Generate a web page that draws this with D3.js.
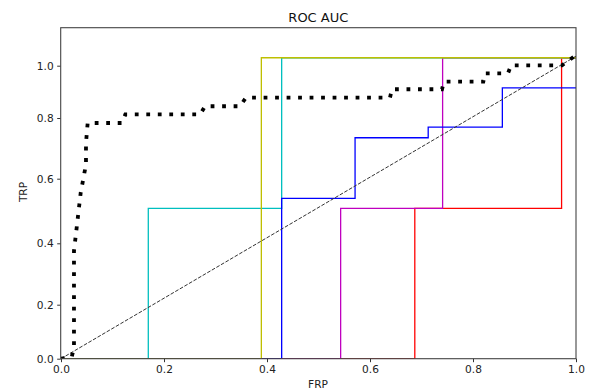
<!DOCTYPE html>
<html>
<head>
<meta charset="utf-8">
<script src="https://cdn.jsdelivr.net/npm/d3@7"></script>
<style>
  body { margin: 0; background: #fff; }
  svg { display: block; font-family: "DejaVu Sans", sans-serif; }
</style>
</head>
<body>
<svg id="chart" width="597" height="389"></svg>
<script>
// tick values
const xTicks = [0, 0.2, 0.4, 0.6, 0.8, 1.0];
const yTicks = [0, 0.2, 0.4, 0.6, 0.8, 1.0];

// dotted black curve
const bestFpr = [0, 0.021, 0.0252, 0.0252, 0.0383, 0.0485, 0.0485, 0.0518, 0.1184, 0.125, 0.2705, 0.2796, 0.3476, 0.3592, 0.6388, 0.6427, 0.7398, 0.7437, 0.82, 0.8233, 0.868, 0.8738, 0.9728, 1.0];
const bestTpr = [0, 0.007, 0.044, 0.375, 0.557, 0.647, 0.717, 0.7835, 0.7835, 0.814, 0.814, 0.845, 0.845, 0.878, 0.878, 0.91, 0.91, 0.939, 0.939, 0.971, 0.971, 1.0015, 1.0015, 1.041];

// step curves
const redFpr = [0, 0.687, 0.687, 0.972, 0.972, 1.0];
const redTpr = [0, 0, 0.508, 0.508, 1.031, 1.031];
const magentaFpr = [0, 0.543, 0.543, 0.741, 0.741, 1.0];
const magentaTpr = [0, 0, 0.508, 0.508, 1.031, 1.031];
const cyanFpr = [0, 0.1695, 0.1695, 0.4285, 0.4285, 1.0];
const cyanTpr = [0, 0, 0.508, 0.508, 1.031, 1.031];
const blueFpr = [0, 0.4285, 0.4285, 0.571, 0.571, 0.713, 0.713, 0.857, 0.857, 1.0];
const blueTpr = [0, 0, 0.539, 0.539, 0.735, 0.735, 0.77, 0.77, 0.915, 0.915];
const yellowFpr = [0, 0.389, 0.389, 1.0];
const yellowTpr = [0, 0, 1.031, 1.031];

// chance line
const chanceFpr = [0, 1];
const chanceTpr = [0, 1.037];

const svg = d3.select("#chart");
const plotLeft = 60.7, plotRight = 576, plotTop = 27.7, plotBottom = 358.7;

const x = d3.scaleLinear().domain([0, 1]).range([61, 576]);
// the y axis in the picture is not evenly spaced, so follow its ticks
const y = d3.scaleLinear()
  .domain([0, 0.2, 0.4, 0.6, 0.8, 1.0, 1.148])
  .range([358.7, 304.7, 243.3, 178.7, 118, 65.7, 27.7]);

svg.append("clipPath").attr("id", "plotclip")
  .append("rect")
  .attr("x", plotLeft).attr("y", plotTop)
  .attr("width", plotRight - plotLeft).attr("height", plotBottom - plotTop);

const plot = svg.append("g").attr("clip-path", "url(#plotclip)");

const line = d3.line().x(d => x(d[0])).y(d => y(d[1]));
const zip = (a, b) => a.map((v, i) => [v, b[i]]);

const steps = [
  [redFpr, redTpr, "#ff0000"],
  [magentaFpr, magentaTpr, "#bf00bf"],
  [cyanFpr, cyanTpr, "#00bfbf"],
  [blueFpr, blueTpr, "#0000ff"],
  [yellowFpr, yellowTpr, "#bfbf00"]
];

steps.forEach(s => {
  plot.append("path")
    .attr("d", line(zip(s[0], s[1])))
    .attr("fill", "none")
    .attr("stroke", s[2])
    .attr("stroke-width", 1.3);
});

plot.append("path")
  .attr("d", line(zip(chanceFpr, chanceTpr)))
  .attr("fill", "none")
  .attr("stroke", "#333")
  .attr("stroke-width", 1)
  .attr("stroke-dasharray", "3.7,1.6");

plot.append("path")
  .attr("d", line(zip(bestFpr, bestTpr)))
  .attr("fill", "none")
  .attr("stroke", "#000")
  .attr("stroke-width", 3.8)
  .attr("stroke-dasharray", "3.8,7.7");

// axes
const xAxis = svg.append("g")
  .attr("transform", "translate(0," + plotBottom + ")")
  .call(d3.axisBottom(x).tickValues(xTicks).tickFormat(d3.format(".1f"))
    .tickSize(3.5).tickPadding(3.5));
const yAxis = svg.append("g")
  .attr("transform", "translate(" + plotLeft + ",0)")
  .call(d3.axisLeft(y).tickValues(yTicks).tickFormat(d3.format(".1f"))
    .tickSize(3.5).tickPadding(3.5));

[xAxis, yAxis].forEach(a => {
  a.select(".domain").remove();
  a.selectAll("line").attr("stroke", "#333");
  a.selectAll("text").attr("fill", "#222")
    .style("font-family", "DejaVu Sans").style("font-size", "10.6px");
});

svg.append("rect")
  .attr("x", plotLeft).attr("y", plotTop)
  .attr("width", plotRight - plotLeft).attr("height", plotBottom - plotTop)
  .attr("fill", "none")
  .attr("stroke", "#444")
  .attr("stroke-width", 1.1);

svg.append("text")
  .attr("x", (plotLeft + plotRight) / 2).attr("y", 21.5)
  .attr("text-anchor", "middle")
  .attr("font-size", "13px")
  .attr("fill", "#111")
  .text("ROC AUC");

svg.append("text")
  .attr("x", 318).attr("y", 388)
  .attr("text-anchor", "middle")
  .attr("font-size", "10.6px")
  .attr("fill", "#222")
  .text("FRP");

svg.append("text")
  .attr("transform", "translate(27,192) rotate(-90)")
  .attr("text-anchor", "middle")
  .attr("font-size", "10.6px")
  .attr("fill", "#222")
  .text("TRP");
</script>
</body>
</html>
